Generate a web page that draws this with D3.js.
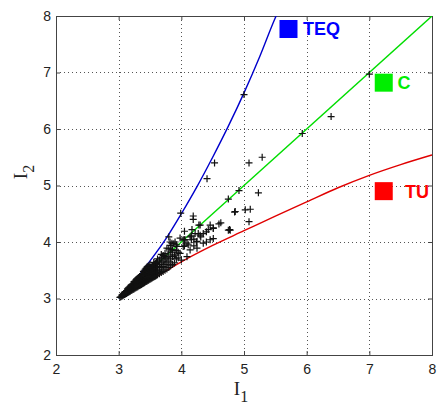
<!DOCTYPE html>
<html>
<head>
<meta charset="utf-8">
<script src="https://cdn.jsdelivr.net/npm/d3@7/dist/d3.min.js"></script>
<style>
  html, body { margin: 0; padding: 0; background: #fff; }
  svg { display: block; }
</style>
</head>
<body>
<svg id="chart" width="437" height="407"></svg>
<script>
// ---------- data ----------
const xTicks = [2, 3, 4, 5, 6, 7, 8];
const yTicks = [2, 3, 4, 5, 6, 7, 8];

// TEQ boundary (blue)
const teqCurve = [[3,3],[3.25,3.3],[3.45,3.59],[3.75,4.05],[4,4.5],[4.25,4.98],[4.5,5.5],[4.75,6.05],[5,6.64],[5.25,7.28],[5.5,7.97],[5.52,8.02]];
// C boundary (green)
const cLine = [[3,3],[8,8]];
// TU boundary (red)
const tuCurve = [[3,3],[3.5,3.32],[4,3.65],[4.5,3.94],[5,4.2],[5.5,4.46],[6,4.71],[6.5,4.96],[7,5.18],[7.5,5.37],[8,5.54]];

// sample invariants (I1, I2)
const sampleI1 = [
  3.02,3.05,3.05,3.08,3.08,3.11,3.11,3.14,3.14,3.14,3.17,3.17,3.17,3.20,3.20,3.20,
  3.23,3.23,3.23,3.26,3.26,3.26,3.26,3.29,3.29,3.29,3.29,3.32,3.32,3.32,3.32,
  3.35,3.35,3.35,3.35,3.38,3.38,3.38,3.38,3.41,3.41,3.41,3.41,3.41,
  3.44,3.44,3.44,3.44,3.44,3.47,3.47,3.47,3.47,3.47,3.50,3.50,3.50,3.50,3.50,
  3.53,3.53,3.53,3.53,3.56,3.56,3.56,3.56,3.56,3.59,3.59,3.59,3.59,
  3.62,3.62,3.62,3.62,3.62,3.65,3.65,3.65,3.65,3.68,3.68,3.68,3.68,
  3.71,3.71,3.71,3.71,3.74,3.74,3.74,3.74,3.77,3.77,3.77,3.80,3.80,3.80,3.80,
  3.83,3.83,3.83,3.83,3.86,3.86,3.86,3.89,3.89,3.92,3.92,3.92,3.95,3.95,
  3.68,3.85,3.90,3.77,3.82,3.90,3.74,3.85,3.93,3.98,4.00,
  4.03,4.09,4.06,4.16,4.14,4.22,4.25,4.30,4.35,4.40,4.51,4.46,4.35,4.25,4.09,4.14,3.98,4.03,
  3.99,4.19,4.19,4.28,4.46,4.63,4.60,4.30,4.75,4.77,4.51,4.43,4.17,4.05,4.16,4.27,4.31,4.20,
  4.05,4.51,4.40,4.11,4.20,3.80,3.88,4.24,4.05,
  4.78,4.86,4.85,4.92,5.02,5.10,5.08,5.23,4.75,4.41,4.53,5.08,5.29,5.93,6.39,7.0,5.0
];
const sampleI2 = [
  3.02,3.04,3.06,3.06,3.09,3.08,3.12,3.10,3.14,3.17,3.12,3.16,3.20,3.14,3.18,3.23,
  3.16,3.21,3.26,3.18,3.23,3.28,3.31,3.20,3.25,3.30,3.34,3.22,3.27,3.32,3.37,
  3.24,3.29,3.35,3.40,3.26,3.31,3.37,3.43,3.28,3.33,3.39,3.45,3.50,
  3.30,3.36,3.42,3.48,3.54,3.32,3.38,3.44,3.51,3.57,3.34,3.40,3.47,3.53,3.60,
  3.36,3.43,3.50,3.56,3.38,3.45,3.52,3.59,3.64,3.40,3.47,3.55,3.62,
  3.42,3.50,3.57,3.65,3.70,3.44,3.52,3.60,3.68,3.46,3.55,3.63,3.72,
  3.48,3.57,3.66,3.76,3.50,3.60,3.70,3.80,3.52,3.63,3.73,3.55,3.66,3.77,3.88,
  3.58,3.70,3.82,3.94,3.60,3.74,3.86,3.63,3.77,3.70,3.85,3.95,3.72,3.82,
  3.78,3.98,4.00,3.89,4.00,3.77,3.74,3.86,3.92,3.80,3.68,
  3.92,3.98,4.04,4.04,4.09,4.15,4.01,4.12,4.15,4.18,4.24,4.04,3.98,3.89,3.74,3.86,4.07,4.04,
  4.51,4.46,4.40,4.30,4.30,4.34,4.32,4.30,4.21,4.22,4.25,4.22,4.22,4.19,4.11,4.15,4.09,4.05,
  4.04,4.06,4.00,3.95,3.93,4.09,3.97,4.00,3.93,
  4.21,4.54,4.53,4.91,4.57,4.58,4.36,4.87,4.76,5.12,5.40,5.40,5.50,5.92,6.22,6.97,6.61
];
// additional samples in the dense wedge near (3,3)
const denseI1 = [
  3.035,3.065,3.065,3.095,3.095,3.125,3.125,3.155,3.155,3.155,3.185,3.185,3.185,
  3.215,3.215,3.215,3.245,3.245,3.245,3.245,3.275,3.275,3.275,3.275,
  3.305,3.305,3.305,3.305,3.335,3.335,3.335,3.335,3.365,3.365,3.365,3.365,
  3.395,3.395,3.395,3.395,3.395,3.425,3.425,3.425,3.425,3.425,
  3.455,3.455,3.455,3.455,3.455,3.485,3.485,3.485,3.485,3.485,
  3.515,3.515,3.515,3.515,3.545,3.545,3.545,3.545,3.575,3.575,3.575,3.575,
  3.605,3.605,3.605,3.605
];
const denseI2 = [
  3.03,3.05,3.07,3.07,3.10,3.09,3.13,3.11,3.15,3.19,3.13,3.17,3.21,
  3.15,3.20,3.24,3.17,3.22,3.27,3.30,3.19,3.24,3.29,3.33,
  3.21,3.26,3.31,3.36,3.23,3.28,3.34,3.39,3.25,3.30,3.36,3.42,
  3.27,3.32,3.38,3.44,3.48,3.29,3.35,3.41,3.47,3.52,
  3.31,3.37,3.43,3.50,3.56,3.33,3.39,3.46,3.52,3.58,
  3.35,3.42,3.49,3.55,3.37,3.44,3.51,3.58,3.39,3.46,3.54,3.61,
  3.41,3.49,3.56,3.64
];

const legendItems = [
  { label: "TEQ", color: "#0000ff", sx: 5.71, sy: 7.77, tx: 5.94 },
  { label: "C",   color: "#00ee00", sx: 7.23, sy: 6.82, tx: 7.45 },
  { label: "TU",  color: "#ff0000", sx: 7.23, sy: 4.90, tx: 7.57 }
];

// ---------- layout ----------
const x0 = 56, x1 = 432, y0 = 16, y1 = 355;

const svg = d3.select("#chart");
const x = d3.scaleLinear().domain([2, 8]).range([x0, x1]);
const y = d3.scaleLinear().domain([2, 8]).range([y1, y0]);

svg.append("defs").append("clipPath").attr("id", "clip")
  .append("rect").attr("x", x0).attr("y", y0).attr("width", x1 - x0).attr("height", y1 - y0);

// grid
const grid = svg.append("g").attr("stroke", "#555").attr("stroke-width", 1)
  .attr("stroke-dasharray", "1,3").attr("shape-rendering", "crispEdges");
xTicks.slice(1, -1).forEach(t => {
  grid.append("line").attr("x1", Math.round(x(t)) + 0.5).attr("x2", Math.round(x(t)) + 0.5)
    .attr("y1", y0).attr("y2", y1);
});
yTicks.slice(1, -1).forEach(t => {
  grid.append("line").attr("y1", Math.round(y(t)) + 0.5).attr("y2", Math.round(y(t)) + 0.5)
    .attr("x1", x0).attr("x2", x1);
});

// axes
const fontAxis = "'Liberation Sans', Arial, Helvetica, sans-serif";
const xAxis = d3.axisBottom(x).tickValues(xTicks).tickSize(-4).tickPadding(9).tickFormat(d3.format("d"));
const yAxis = d3.axisLeft(y).tickValues(yTicks).tickSize(-4).tickPadding(5).tickFormat(d3.format("d"));

const gx = svg.append("g").attr("transform", `translate(0,${y1})`).call(xAxis);
const gy = svg.append("g").attr("transform", `translate(${x0},0)`).call(yAxis);
[gx, gy].forEach(g => {
  g.select(".domain").remove();
  g.selectAll("line").attr("stroke", "#444");
  g.selectAll("text").attr("font-family", fontAxis).attr("font-size", 14).attr("fill", "#222");
});
gx.selectAll("text").attr("dy", "0.71em");
const gt = svg.append("g").attr("transform", `translate(0,${y0})`).call(d3.axisTop(x).tickValues(xTicks).tickSize(-4).tickFormat(""));
const gr = svg.append("g").attr("transform", `translate(${x1},0)`).call(d3.axisRight(y).tickValues(yTicks).tickSize(-4).tickFormat(""));
[gt, gr].forEach(g => { g.select(".domain").remove(); g.selectAll("line").attr("stroke", "#444"); });

// frame
svg.append("rect").attr("x", x0 + 0.5).attr("y", y0 + 0.5).attr("width", x1 - x0).attr("height", y1 - y0)
  .attr("fill", "none").attr("stroke", "#444").attr("stroke-width", 1);

// curves
const plot = svg.append("g").attr("clip-path", "url(#clip)");
const line = d3.line().x(d => x(d[0])).y(d => y(d[1])).curve(d3.curveMonotoneX);
plot.append("path").datum(tuCurve).attr("d", line).attr("fill", "none").attr("stroke", "#e00000").attr("stroke-width", 1.4);
plot.append("path").datum(cLine).attr("d", line).attr("fill", "none").attr("stroke", "#00dd00").attr("stroke-width", 1.4);
plot.append("path").datum(teqCurve).attr("d", line).attr("fill", "none").attr("stroke", "#0000cc").attr("stroke-width", 1.4);

// samples as '+'
const pts = sampleI1.map((v, i) => [v, sampleI2[i]])
  .concat(denseI1.map((v, i) => [v, denseI2[i]]));
const m = 3.5;
plot.append("g").selectAll("path").data(pts).join("path")
  .attr("d", d => {
    const px = x(d[0]), py = y(d[1]);
    return `M${px - m},${py}H${px + m}M${px},${py - m}V${py + m}`;
  })
  .attr("stroke", "#111").attr("stroke-width", 1.2).attr("fill", "none");

// legend
const sq = 18;
legendItems.forEach(it => {
  svg.append("rect").attr("x", x(it.sx) - sq / 2).attr("y", y(it.sy) - sq / 2)
    .attr("width", sq).attr("height", sq).attr("fill", it.color);
  svg.append("text").attr("x", x(it.tx)).attr("y", y(it.sy) + 6.5)
    .attr("font-family", fontAxis).attr("font-weight", "bold").attr("font-size", 18)
    .attr("fill", it.color).text(it.label);
});

// axis labels
const serif = "'Liberation Serif', 'Times New Roman', serif";
const xl = svg.append("text").attr("x", 241).attr("y", 395).attr("text-anchor", "middle")
  .attr("font-family", serif).attr("font-size", 19).attr("fill", "#222");
xl.append("tspan").text("I");
xl.append("tspan").attr("dy", 7).attr("font-size", 16).text("1");

const yl = svg.append("text").attr("transform", `translate(27,172) rotate(-90)`).attr("text-anchor", "middle")
  .attr("font-family", serif).attr("font-size", 19).attr("fill", "#222");
yl.append("tspan").text("I");
yl.append("tspan").attr("dy", 7).attr("font-size", 16).text("2");
</script>
</body>
</html>
